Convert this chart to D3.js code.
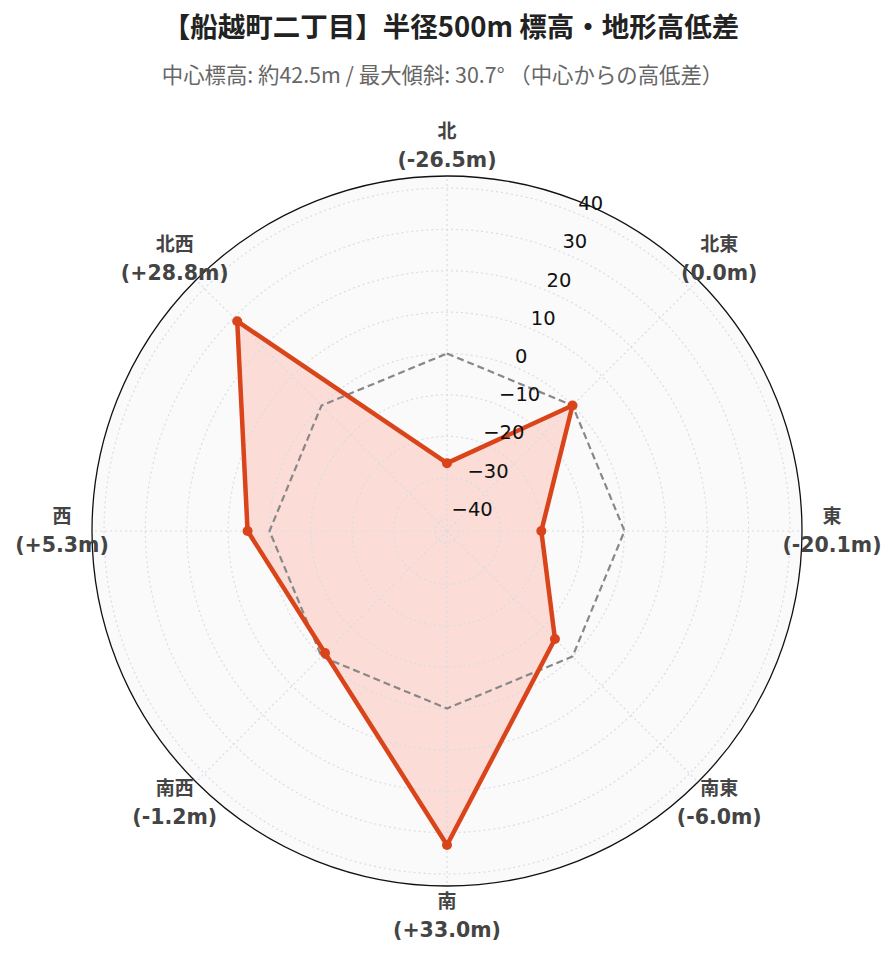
<!DOCTYPE html>
<html><head><meta charset="utf-8">
<script src="https://cdn.jsdelivr.net/npm/d3@7"></script>
<style>
html,body{margin:0;padding:0;background:#fff;}
svg{display:block;}
</style></head>
<body>
<script>
const directions = ["北","北東","東","南東","南","南西","西","北西"];
const values = [-26.5, 0.0, -20.1, -6.0, 33.0, -1.2, 5.3, 28.8];
const referenceValues = [0, 0, 0, 0, 0, 0, 0, 0];
const radialTicks = [-40, -30, -20, -10, 0, 10, 20, 30, 40];
const radialDomain = [-42.9, 42.9];
const titleText = "【船越町二丁目】半径500m 標高・地形高低差";
const subtitleText = "中心標高: 約42.5m / 最大傾斜: 30.7° （中心からの高低差）";

const W = 896, H = 962, cx = 447, cy = 531, R = 355;
const svg = d3.select("body").append("svg").attr("width", W).attr("height", H);

const rScale = d3.scaleLinear().domain(radialDomain).range([0, R]);
const aScale = d3.scalePoint().domain(directions).range([0, 2*Math.PI*(directions.length-1)/directions.length]);

svg.append("text").attr("x", 451).attr("y", 37).attr("text-anchor","middle")
  .attr("font-family","'Noto Sans CJK JP', sans-serif").attr("font-weight","bold")
  .attr("font-size", 27.5).attr("fill","#222").text(titleText);
svg.append("text").attr("x", 442.5).attr("y", 83).attr("text-anchor","middle")
  .attr("font-family","'Noto Sans CJK JP', sans-serif")
  .attr("font-size", 21.4).attr("fill","#666").text(subtitleText);

const g = svg.append("g").attr("transform", `translate(${cx},${cy})`);

g.append("circle").attr("r", R).attr("fill", "#fafafa");

// data fill
const closed = values.map((v,i)=>({a:aScale(directions[i]), r:rScale(v)}));
const radial = d3.lineRadial().angle(d=>d.a).radius(d=>d.r).curve(d3.curveLinearClosed);
g.append("path").attr("d", radial(closed)).attr("fill","rgba(255,99,71,0.2)").attr("stroke","none");

// grid circles
g.selectAll("circle.grid").data(radialTicks).enter().append("circle")
  .attr("class","grid").attr("r", d=>rScale(d)).attr("fill","none")
  .attr("stroke","#d8dde3").attr("stroke-width",1.2).attr("stroke-dasharray","2,3");
// spokes
g.selectAll("line.spoke").data(directions).enter().append("line")
  .attr("x1",0).attr("y1",0)
  .attr("x2", d=>R*Math.sin(aScale(d))).attr("y2", d=>-R*Math.cos(aScale(d)))
  .attr("stroke","#d8dde3").attr("stroke-width",1.2).attr("stroke-dasharray","2,3");

// outer circle
g.append("circle").attr("r", R).attr("fill","none").attr("stroke","#111").attr("stroke-width",1.3);

// reference dashed line (zero)
const refPts = referenceValues.map((v,i)=>({a:aScale(directions[i]), r:rScale(v)}));
g.append("path").attr("d", radial(refPts)).attr("fill","none")
  .attr("stroke","#888").attr("stroke-width",2.2).attr("stroke-dasharray","7,4");

// data line
g.append("path").attr("d", radial(closed)).attr("fill","none")
  .attr("stroke","#d9441a").attr("stroke-width",4.5).attr("stroke-linejoin","round");
g.selectAll("circle.pt").data(closed).enter().append("circle")
  .attr("class","pt").attr("cx", d=>d.r*Math.sin(d.a)).attr("cy", d=>-d.r*Math.cos(d.a))
  .attr("r",5).attr("fill","#d9441a");

// radial tick labels at 22.5deg
const ra = Math.PI/8;
g.selectAll("text.rtick").data(radialTicks).enter().append("text")
  .attr("class","rtick")
  .attr("x", d=>rScale(d)*Math.sin(ra)).attr("y", d=>-rScale(d)*Math.cos(ra) - 4)
  .attr("font-family","'DejaVu Sans', sans-serif").attr("font-size",19.5).attr("fill","#111")
  .text(d=> d<0 ? "\u2212"+Math.abs(d) : String(d));

// angular labels
const fmt = v => v>0 ? "+"+v.toFixed(1) : v.toFixed(1);
const lab = g.selectAll("g.alab").data(directions).enter().append("g").attr("class","alab")
  .attr("transform", d=>{const a=aScale(d); return `translate(${385*Math.sin(a)},${-385*Math.cos(a)})`;});
lab.append("text").attr("y",-8).attr("text-anchor","middle")
  .attr("font-family","'DejaVu Sans','Noto Sans CJK JP', sans-serif").attr("font-weight","bold")
  .attr("font-size",19).attr("fill","#444").text(d=>d);
lab.append("text").attr("y",21).attr("text-anchor","middle")
  .attr("font-family","'DejaVu Sans','Noto Sans CJK JP', sans-serif").attr("font-weight","bold")
  .attr("font-size",20.5).attr("fill","#444").text((d,i)=>"("+fmt(values[i])+"m)");
</script>
</body></html>
